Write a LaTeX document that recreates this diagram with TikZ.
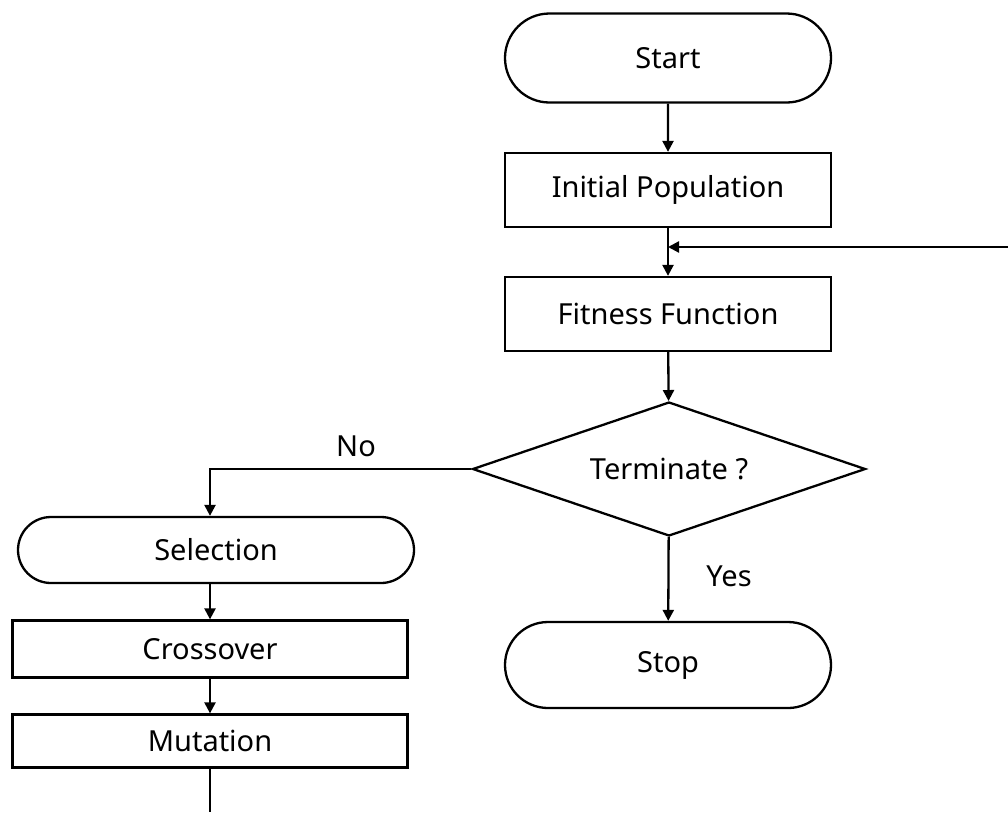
\documentclass[tikz,border=0pt]{standalone}
\usepackage{fontspec}
\setmainfont{Noto Sans}
\usetikzlibrary{shapes.misc,shapes.geometric,arrows.meta}
\begin{document}
\begin{tikzpicture}[x=1pt,y=-1pt,
  base/.style={draw=black,line width=2.3pt,font=\fontsize{29}{34}\selectfont,inner sep=0pt},
  term/.style={base,rounded rectangle,minimum width=326pt,minimum height=89pt},
  proc/.style={base,rectangle,minimum width=326pt,minimum height=74pt},
  sproc/.style={base,rectangle,minimum width=395pt,minimum height=56pt},
  dec/.style={base,diamond,minimum width=393pt,minimum height=134pt,shape aspect=2.93},
  arr/.style={line width=2.3pt,-{Triangle[length=11pt,width=11pt]}},
  lab/.style={font=\fontsize{29}{34}\selectfont,inner sep=0pt}]
\useasboundingbox (0,0) rectangle (1008,812);
\node[term] (start) at (668,58) {Start};
\node[proc] (init) at (668,190) {Initial Population};
\node[proc] (fit) at (668,314) {Fitness Function};
\node[dec] (term) at (669,469) {Terminate ?};
\node[term,minimum height=86pt] (stop) at (668,665) {Stop};
\node[term,minimum width=396pt,minimum height=66pt] (sel) at (216,550) {Selection};
\node[sproc,minimum height=57pt] (cross) at (210,649) {Crossover};
\node[sproc,minimum height=53pt] (mut) at (210,741) {Mutation};
\node[lab] (no) at (356,446) {No};
\node[lab] (yes) at (729,576) {Yes};
\coordinate (fb) at (1008,247);
\coordinate (join) at (668,247);
\coordinate (bend) at (210,469);
\coordinate (bottom) at (210,812);
\draw[arr] (start) -- (init);
\draw[arr] (init) -- (fit);
\draw[arr] (fb) -- (join);
\draw[arr] (fit) -- (term);
\draw[arr] (term) -- (stop);
\draw[arr] (term.west) -- (bend) -- (sel.north -| bend);
\draw[arr] (sel.south -| cross.north) -- (cross);
\draw[arr] (cross) -- (mut);
\draw[line width=2.3pt] (mut) -- (bottom);
\end{tikzpicture}
\end{document}
